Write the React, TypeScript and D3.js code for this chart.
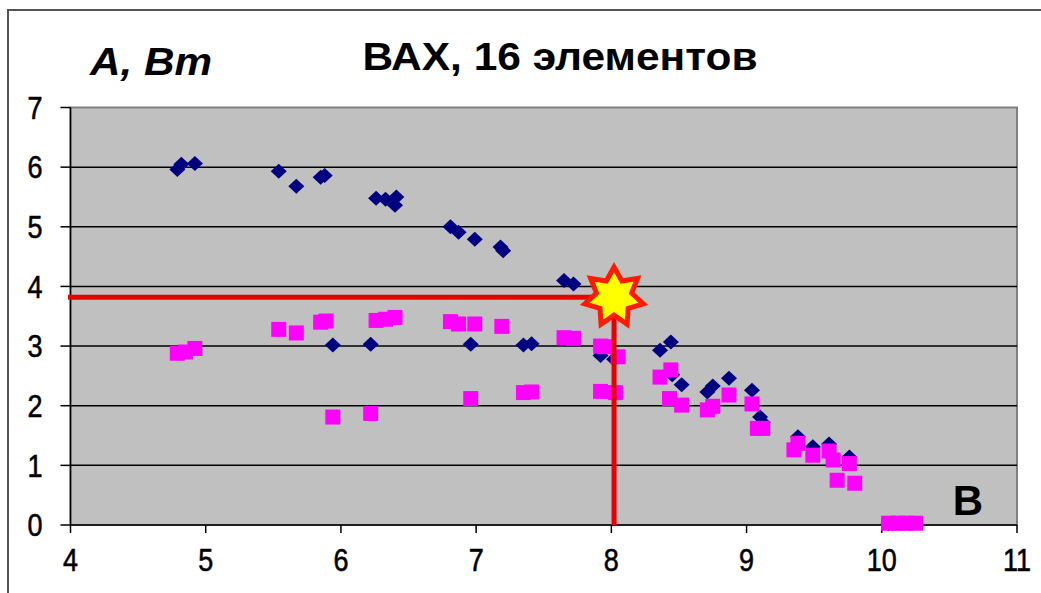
import React from "react";
import * as d3 from "d3";

const xTicks = [4, 5, 6, 7, 8, 9, 10, 11];
const yTicks = [0, 1, 2, 3, 4, 5, 6, 7];

const blueX = [4.79, 4.82, 4.92, 5.54, 5.67, 5.85, 5.88, 6.26, 6.33, 6.41, 6.40, 5.94, 6.22, 6.81, 6.87, 6.99, 7.18, 7.20, 7.65, 7.72, 6.96, 7.35, 7.41, 7.92, 8.02, 8.36, 8.44, 8.45, 8.52, 8.71, 8.75, 8.87, 9.04, 9.10, 9.12, 9.38, 9.49, 9.61, 9.76, 10.05];
const blueY = [5.96, 6.05, 6.06, 5.93, 5.68, 5.83, 5.86, 5.48, 5.46, 5.50, 5.36, 3.02, 3.03, 5.00, 4.91, 4.79, 4.66, 4.60, 4.10, 4.04, 3.03, 3.02, 3.04, 2.84, 2.78, 2.93, 3.07, 2.52, 2.35, 2.23, 2.33, 2.46, 2.26, 1.81, 1.72, 1.48, 1.31, 1.36, 1.14, 0.02];

const pinkX = [4.79, 4.85, 4.92, 5.54, 5.67, 5.85, 5.89, 6.26, 6.33, 6.40, 5.94, 6.22, 6.81, 6.87, 6.99, 7.19, 7.65, 7.72, 7.92, 7.95, 8.05, 6.96, 7.35, 7.41, 7.92, 8.03, 8.36, 8.44, 8.43, 8.52, 8.71, 8.75, 8.87, 9.04, 9.08, 9.12, 9.35, 9.38, 9.49, 9.61, 9.64, 9.67, 9.76, 9.80, 10.05, 10.12, 10.18, 10.25];
const pinkY = [2.88, 2.90, 2.96, 3.28, 3.22, 3.40, 3.42, 3.43, 3.45, 3.48, 1.81, 1.87, 3.41, 3.37, 3.37, 3.33, 3.14, 3.13, 3.00, 2.99, 2.82, 2.12, 2.22, 2.23, 2.24, 2.22, 2.48, 2.60, 2.12, 2.01, 1.93, 1.99, 2.18, 2.03, 1.62, 1.62, 1.26, 1.37, 1.17, 1.24, 1.09, 0.75, 1.03, 0.70, 0.03, 0.03, 0.03, 0.03];

const markX = [8.02];
const markY = [3.82];

const titleText = "ВАХ, 16 элементов";
const yAxisLabel = "A, Bm";
const xAxisLabel = "B";

export default function App() {
  const x = d3.scaleLinear().domain([4, 11]).range([70.5, 1017]);
  const y = d3.scaleLinear().domain([0, 7]).range([525, 107.5]);
  const font = "'Liberation Sans', Arial, sans-serif";

  const sx = x(markX[0]);
  const sy = y(markY[0]);
  const pts: [number, number][] = [];
  const n = 7;
  for (let i = 0; i < n * 2; i++) {
    const r = i % 2 === 0 ? 30 : 18;
    pts.push([(i * Math.PI) / n, r]);
  }
  const star = d3.lineRadial().curve(d3.curveLinearClosed)(pts) || "";

  return (
    <svg width={1041} height={593} style={{ position: "absolute", left: 0, top: 0, background: "#fff" }}>
      <rect x={0} y={0} width={1041} height={593} fill="#fff" />
      <rect x={8} y={10} width={1100} height={700} fill="none" stroke="#555" strokeWidth={2} />
      <rect x={x(4)} y={y(7)} width={x(11) - x(4)} height={y(0) - y(7)} fill="#c0c0c0" stroke="#808080" strokeWidth={2} />
      {yTicks.filter((t) => t > 0 && t < 7).map((t) => (
        <line key={"g" + t} x1={x(4)} x2={x(11)} y1={y(t)} y2={y(t)} stroke="#000" strokeWidth={1.5} />
      ))}
      <line x1={x(4)} x2={x(4)} y1={y(7)} y2={y(0)} stroke="#000" strokeWidth={1.5} />
      <line x1={x(4)} x2={x(11)} y1={y(0)} y2={y(0)} stroke="#000" strokeWidth={1.5} />
      {yTicks.map((t) => (
        <g key={"y" + t}>
          <line x1={x(4) - 10} x2={x(4)} y1={y(t)} y2={y(t)} stroke="#000" strokeWidth={1.5} />
          <text transform={`translate(35,${y(t)}) scale(1,1.15)`} dy="0.36em" textAnchor="middle" fontFamily={font} fontSize={27} stroke="#000" strokeWidth={0.5} fill="#000">{t}</text>
        </g>
      ))}
      {xTicks.map((t) => (
        <g key={"x" + t}>
          <line x1={x(t)} x2={x(t)} y1={y(0)} y2={y(0) + 8} stroke="#000" strokeWidth={1.5} />
          <text transform={`translate(${x(t)},560) scale(1,1.15)`} dy="0.36em" textAnchor="middle" fontFamily={font} fontSize={27} stroke="#000" strokeWidth={0.5} fill="#000">{t}</text>
        </g>
      ))}
      {blueX.map((v, i) => (
        <path key={"b" + i} transform={`translate(${x(v)},${y(blueY[i])})`} d="M0,-7.5L8,0L0,7.5L-8,0Z" fill="#000080" />
      ))}
      {pinkX.map((v, i) => (
        <rect key={"p" + i} x={x(v) - 7.5} y={y(pinkY[i]) - 7.5} width={15} height={15} fill="#ff00ff" />
      ))}
      <line x1={68} x2={sx} y1={sy} y2={sy} stroke="#e60000" strokeWidth={5} />
      <line x1={sx} x2={sx} y1={sy} y2={y(0)} stroke="#e60000" strokeWidth={5} />
      <path d={star} transform={`translate(${sx},${sy})`} fill="#ffff00" stroke="#ff1a00" strokeWidth={5} strokeLinejoin="miter" />
      <text x={560} y={70} textAnchor="middle" fontFamily={font} fontWeight="bold" fontSize={39} textLength={395} lengthAdjust="spacingAndGlyphs" fill="#000">{titleText}</text>
      <text x={90} y={75} fontFamily={font} fontWeight="bold" fontStyle="italic" fontSize={39} textLength={122} lengthAdjust="spacingAndGlyphs" fill="#000">{yAxisLabel}</text>
      <text x={968} y={515} textAnchor="middle" fontFamily={font} fontWeight="bold" fontSize={42} fill="#000">{xAxisLabel}</text>
    </svg>
  );
}
